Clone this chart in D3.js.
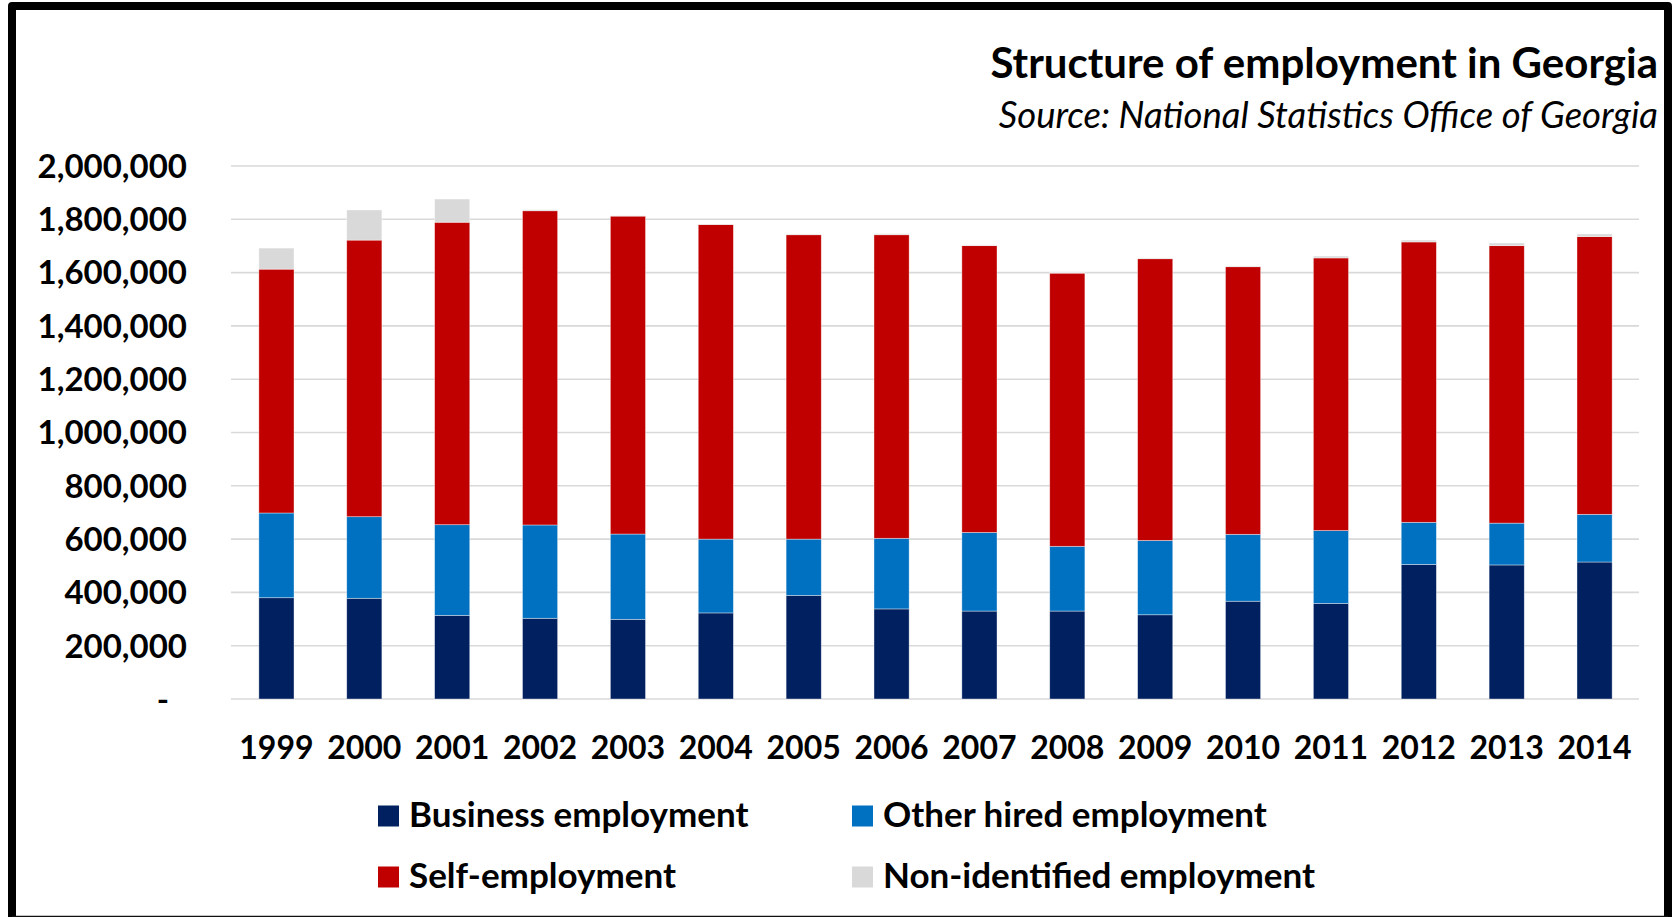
<!DOCTYPE html>
<html>
<head>
<meta charset="utf-8">
<script src="https://cdn.jsdelivr.net/npm/d3@7"></script>
<style>
  html, body { margin: 0; padding: 0; background: #fff; }
  svg { display: block; }
  text { font-family: Lato, "Open Sans", sans-serif; fill: #000; }
</style>
</head>
<body>
<svg id="chart" width="1677" height="917"></svg>
<script>
// Employment in Georgia by type, persons
const years = ["1999","2000","2001","2002","2003","2004","2005","2006",
               "2007","2008","2009","2010","2011","2012","2013","2014"];
const businessEmployment   = [380000,378000,314000,303000,299000,323000,389000,338000,
                              330000,330000,316000,367000,359000,505000,503000,514000];
const otherHiredEmployment = [318000,306000,340000,350000,320000,277000,211000,265000,
                              295000,243000,279000,251000,273000,158000,157000,179000];
const selfEmployment       = [915000,1038000,1135000,1179000,1193000,1180000,1142000,1139000,
                              1076000,1025000,1057000,1004000,1023000,1052000,1041000,1042000];
const nonIdentified        = [79000,113000,87000,4000,2000,2000,3000,4000,
                              3000,2000,3000,3000,7000,7000,10000,10000];
const seriesNames  = ["Business employment","Other hired employment","Self-employment","Non-identified employment"];
const seriesColors = ["#002060","#0070C0","#C00000","#D9D9D9"];
const yTicks = [0,200000,400000,600000,800000,1000000,1200000,1400000,1600000,1800000,2000000];

const svg = d3.select("#chart");

// frame round the chart
svg.append("path")
  .attr("d", "M12,917 L12,6 L1668,6 L1668,917")
  .attr("fill", "none").attr("stroke", "#000").attr("stroke-width", 8)
  .attr("stroke-linejoin", "round");
svg.append("line").attr("x1", 12).attr("x2", 1668).attr("y1", 916.5).attr("y2", 916.5)
  .attr("stroke", "#111").attr("stroke-width", 1.5);

// title block
svg.append("text").attr("x", 1658).attr("y", 78).attr("text-anchor", "end")
  .attr("font-weight", 700).attr("font-size", 42).text("Structure of employment in Georgia");
svg.append("text").attr("x", 1658).attr("y", 128).attr("text-anchor", "end")
  .attr("font-style", "italic").attr("font-size", 36.5).text("Source: National Statistics Office of Georgia");

const x = d3.scaleBand().domain(years).range([232.5, 1638.5]).paddingInner(0.6).paddingOuter(0.3);
const y = d3.scaleLinear().domain([0, 2000000]).range([699, 166]);

// gridlines
svg.append("g").selectAll("line").data(yTicks).join("line")
  .attr("x1", 231).attr("x2", 1639)
  .attr("y1", d => y(d)).attr("y2", d => y(d))
  .attr("stroke", "#d9d9d9").attr("stroke-width", 1.6);

// y axis labels
const fmt = d3.format(",");
svg.append("g").selectAll("text").data(yTicks).join("text")
  .attr("x", d => d === 0 ? 169 : 187)
  .attr("y", d => y(d)).attr("dy", "0.36em")
  .attr("text-anchor", "end").attr("font-weight", 700).attr("font-size", 33)
  .text(d => d === 0 ? "-" : fmt(d));

// stacked bars
const rows = years.map((yr, i) => ({
  year: yr, s0: businessEmployment[i], s1: otherHiredEmployment[i],
  s2: selfEmployment[i], s3: nonIdentified[i]
}));
const stack = d3.stack().keys(["s0","s1","s2","s3"])(rows);
svg.append("g").selectAll("g").data(stack).join("g")
  .attr("fill", (d, i) => seriesColors[i])
  .selectAll("rect").data(d => d).join("rect")
  .attr("x", d => x(d.data.year))
  .attr("width", x.bandwidth())
  .attr("y", d => y(d[1]))
  .attr("height", d => y(d[0]) - y(d[1]))
  .attr("stroke", "rgba(255,255,255,0.55)").attr("stroke-width", 0.7);

// x axis labels
svg.append("g").selectAll("text").data(years).join("text")
  .attr("x", d => x(d) + x.bandwidth() / 2).attr("y", 759)
  .attr("text-anchor", "middle").attr("font-weight", 700).attr("font-size", 32)
  .text(d => d);

// legend
const legendPos = [[378, 816], [852, 816], [378, 877], [852, 877]];
const lg = svg.append("g").selectAll("g").data(seriesNames).join("g")
  .attr("transform", (d, i) => `translate(${legendPos[i][0]},${legendPos[i][1]})`);
lg.append("rect").attr("x", 0).attr("y", -10.5).attr("width", 21).attr("height", 21)
  .attr("fill", (d, i) => seriesColors[i]);
lg.append("text").attr("x", 31).attr("y", 11).attr("font-weight", 700).attr("font-size", 35)
  .text(d => d);
</script>
</body>
</html>
